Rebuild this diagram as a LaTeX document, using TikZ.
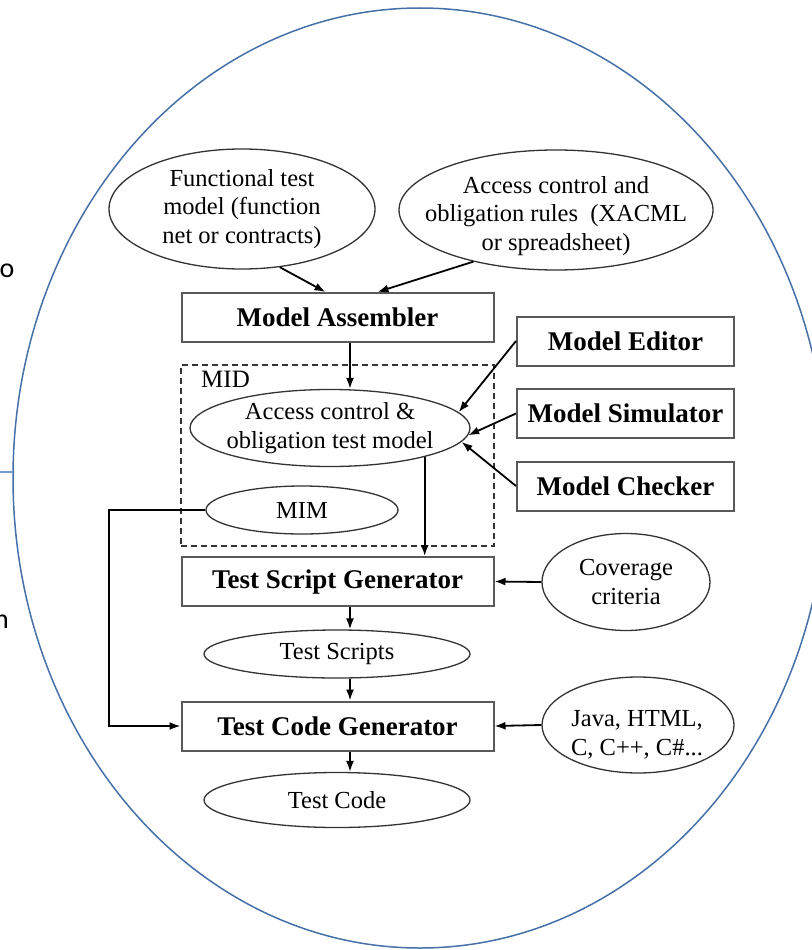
\documentclass[tikz,border=0pt]{standalone}
\usepackage{fontspec}
\setmainfont{Liberation Serif}
\newfontfamily\calib{Carlito}
\usetikzlibrary{shapes.geometric,arrows.meta}
\definecolor{ellblue}{RGB}{70,112,168}
\definecolor{lineblue}{RGB}{110,155,210}
\begin{document}
\begin{tikzpicture}[x=1pt,y=-1pt,
  ell/.style={ellipse,draw=black!80,line width=1.3pt,inner sep=0pt},
  txt/.style={inner sep=0pt,align=center,font=\fontsize{24.5}{28.5}\selectfont},
  box/.style={rectangle,draw=black!65,line width=2pt,inner sep=0pt,align=center,
              minimum height=49pt,font=\bfseries\fontsize{27}{30}\selectfont},
  arr/.style={-{Latex[length=11pt,width=8pt]},line width=1.8pt},
]
\useasboundingbox (0,0) rectangle (811,950);
% big ellipse and stray marks
\draw[ellblue,line width=1.5pt] (420,478) ellipse [x radius=407,y radius=470];
\coordinate (bl0) at (0,472);
\coordinate (bl1) at (13,472);
\draw[lineblue,line width=1.3pt] (bl0) -- (bl1);
\node[anchor=base east,inner sep=0pt,font=\calib\fontsize{28}{30}\selectfont] (so) at (14.5,277) {o};
\node[anchor=base east,inner sep=0pt,font=\calib\fontsize{28}{30}\selectfont] (sn) at (9,628) {n};

% top inputs
\node[ell,minimum width=266pt,minimum height=120pt] (fun) at (242,209) {};
\node[txt] at (fun) {Functional test\\model (function\\net or contracts)};
\node[ell,minimum width=314pt,minimum height=120pt] (acc) at (556,210) {};
\node[txt] at ([yshift=-6pt]acc.center) {Access control and\\obligation rules\ \ (XACML\\or spreadsheet)};

% boxes
\node[box,minimum width=312pt] (ma) at (337.5,317.5) {Model Assembler};
\node[box,minimum width=217pt] (me) at (625.5,341) {Model Editor};
\node[box,minimum width=217pt] (ms) at (625.5,413.5) {Model Simulator};
\node[box,minimum width=217pt] (mc) at (625.5,486) {Model Checker};

% MID
\node[draw=black!80,line width=1.6pt,dash pattern=on 6pt off 4pt,minimum width=313pt,minimum height=181pt,inner sep=0pt] (mid) at (337.5,455.5) {};
\node[anchor=base west,inner sep=0pt,font=\fontsize{25}{28}\selectfont] (midl) at (201,387) {MID};
\node[ell,minimum width=280pt,minimum height=77pt] (tm) at (330,428) {};
\node[txt] at (tm) {Access control \&\\obligation test model};
\node[ell,minimum width=192pt,minimum height=48pt] (mim) at (302,510) {};
\node[txt] at (mim) {MIM};

% generators
\node[box,minimum width=312pt] (tsg) at (337.5,581.5) {Test Script Generator};
\node[ell,minimum width=168pt,minimum height=97pt] (cov) at (626,582) {};
\node[txt] at (cov) {Coverage\\criteria};
\node[ell,minimum width=266pt,minimum height=48pt] (ts) at (337,654) {};
\node[txt] at (ts) {Test Scripts};
\node[box,minimum width=312pt] (tcg) at (337.5,726) {Test Code Generator};
\node[ell,minimum width=192pt,minimum height=96pt] (jav) at (638,725) {};
\node[txt] at ([xshift=-1pt,yshift=-10pt]jav.center) {Java, HTML,\\C, C++, C\#...};
\node[ell,minimum width=266pt,minimum height=55pt] (tc) at (337,800) {};
\node[txt] at (tc) {Test Code};

% connectors
\draw[arr] (fun.-57) -- ([xshift=-12pt]ma.north);
\draw[arr] (acc.-148) -- ([xshift=40pt]ma.north);
\draw[arr] ([xshift=12.5pt]ma.south) -- ([xshift=20pt]tm.north);
\draw[arr] (me.west) -- (tm.7);
\draw[arr] (ms.west) -- (tm.-3);
\draw[arr] (mc.west) -- (tm.-6);
\draw[arr] (tm.-17) -- (tm.-17 |- tsg.north);
\draw[arr] (mim.west) -- ++(-96,0) |- (tcg.west);
\draw[arr] (cov.west) -- (tsg.east);
\draw[arr] ([xshift=12.5pt]tsg.south) -- ([xshift=13pt]ts.north);
\draw[arr] ([xshift=13pt]ts.south) -- ([xshift=12.5pt]tcg.north);
\draw[arr] (jav.west) -- (tcg.east);
\draw[arr] ([xshift=12.5pt]tcg.south) -- ([xshift=13pt]tc.north);
\end{tikzpicture}
\end{document}
